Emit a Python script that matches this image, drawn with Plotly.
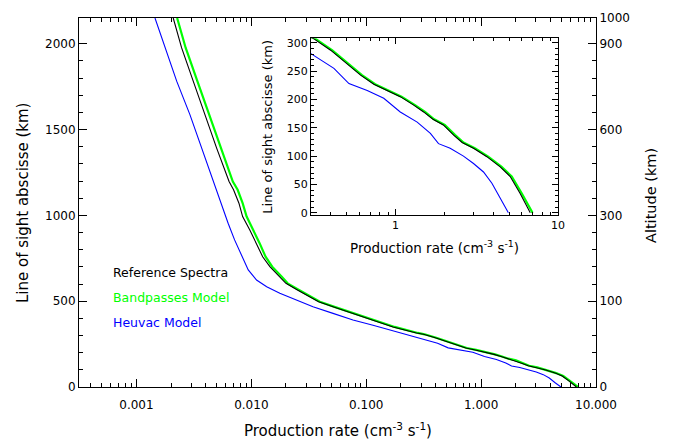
import plotly.graph_objects as go

# ---- data ----
los_ref = [2150, 1977, 1782, 1587, 1393, 1197, 1149, 1071, 993, 915, 838, 759, 701, 643, 604, 565, 526, 497,
           467, 429, 390, 350, 315,
           307, 287, 263, 243, 227, 216, 205, 190, 178, 165, 155, 137, 124, 114, 99, 81, 64, 34, 11, 0]
rate_ref = [0.00209, 0.00247, 0.00312, 0.00394, 0.00498, 0.0064, 0.0070, 0.0078, 0.0084, 0.0097, 0.0110,
            0.01255, 0.0145, 0.0177, 0.0200, 0.0252, 0.0325, 0.0385,
            0.0514, 0.0767, 0.1146, 0.171, 0.274,
            0.315, 0.399, 0.505, 0.61, 0.736, 0.889, 1.07, 1.295, 1.49, 1.70, 1.97, 2.28, 2.57, 3.02, 3.65, 4.41,
            5.08, 5.85, 6.43, 6.75]

los_bp = los_ref
rate_bp = [0.00226, 0.00268, 0.00339, 0.0043, 0.00543, 0.0069, 0.0076, 0.0084, 0.0091, 0.0104, 0.0118,
           0.0133, 0.0152, 0.0184, 0.0207, 0.0260, 0.0334, 0.0395,
           0.0530, 0.0794, 0.1186, 0.177, 0.281,
           0.322, 0.407, 0.515, 0.622, 0.75, 0.905, 1.09, 1.32, 1.52, 1.73, 2.01, 2.33, 2.62, 3.08, 3.72, 4.5,
           5.19, 5.99, 6.6, 6.97]

los_hv = [2150, 1977, 1782, 1587, 1393, 1197, 1149, 1089, 1030, 954, 857, 759, 682, 623, 584, 546, 506, 467,
          429, 390, 360, 321,
          280, 255, 228, 216, 202, 178, 160, 140, 122, 114, 100, 87, 72, 52, 25, 0]
rate_hv = [0.00145, 0.00177, 0.00224, 0.00292, 0.00369, 0.00466, 0.0049, 0.00532, 0.00569, 0.00628, 0.00715,
           0.0083, 0.0094, 0.0111, 0.0136, 0.0177, 0.0245, 0.0344,
           0.0514, 0.0767, 0.1146, 0.183,
           0.305, 0.418, 0.517, 0.67, 0.847, 1.07, 1.36, 1.64, 1.84, 2.17, 2.62, 3.02, 3.48, 3.92, 4.41, 4.95]

series_names = ["Reference Spectra", "Bandpasses Model", "Heuvac Model"]

x_tickvals = [0.001, 0.01, 0.1, 1, 10]
x_ticktext = ["0.001", "0.010", "0.100", "1.000", "10.000"]
y_tickvals = [0, 500, 1000, 1500, 2000]
alt_tickvals = [0, 500, 1000, 1500, 2000, 2150]
alt_ticktext = ["0", "100", "300", "600", "900", "1000"]
y_minor = [v for v in range(100, 2000, 100) if v % 500 != 0]
x_minor = [m * 10.0 ** e for e in range(-4, 1) for m in range(2, 10)]

inset_xtickvals = [1, 10]
inset_xticktext = ["1", "10"]
inset_ytickvals = [0, 50, 100, 150, 200, 250, 300]
inset_yminor = [v for v in range(10, 310, 10) if v % 50 != 0]
inset_xminor = [m * 10.0 ** e for e in range(-1, 1) for m in range(2, 10)]

BLACK, GREEN, BLUE = "#000000", "#00ff00", "#0000ff"
FONT = "DejaVu Sans"

fig = go.Figure()
# main
fig.add_trace(go.Scatter(x=rate_bp, y=los_bp, mode="lines", line=dict(color=GREEN, width=2.2), xaxis="x", yaxis="y"))
fig.add_trace(go.Scatter(x=rate_ref, y=los_ref, mode="lines", line=dict(color=BLACK, width=1.1), xaxis="x", yaxis="y"))
fig.add_trace(go.Scatter(x=rate_hv, y=los_hv, mode="lines", line=dict(color=BLUE, width=1.1), xaxis="x", yaxis="y"))
# helper to render right axis
fig.add_trace(go.Scatter(x=rate_ref, y=los_ref, mode="lines", line=dict(color="rgba(0,0,0,0)", width=0),
                         xaxis="x", yaxis="y2", hoverinfo="skip"))
# inset
fig.add_trace(go.Scatter(x=rate_bp, y=los_bp, mode="lines", line=dict(color=GREEN, width=2.2), xaxis="x2", yaxis="y3"))
fig.add_trace(go.Scatter(x=rate_ref, y=los_ref, mode="lines", line=dict(color=BLACK, width=1.1), xaxis="x2", yaxis="y3"))
fig.add_trace(go.Scatter(x=rate_hv, y=los_hv, mode="lines", line=dict(color=BLUE, width=1.1), xaxis="x2", yaxis="y3"))

axis_common = dict(showline=True, linecolor="black", linewidth=1, showgrid=False, zeroline=False,
                   ticks="inside", tickcolor="black", tickwidth=1, automargin=False)

# page body has an 8px default margin -> figure is 667x431 so that it fits a 675x439 window
fig.update_layout(
    width=667, height=431,
    margin=dict(l=71, r=79, t=10, b=52),
    paper_bgcolor="white", plot_bgcolor="white",
    showlegend=False,
    font=dict(family=FONT, size=12, color="black"),
    xaxis=dict(type="log", range=[-3.5, 1], domain=[0, 1], mirror="ticks", ticklen=8,
               tickmode="array", tickvals=x_tickvals, ticktext=x_ticktext, ticklabelstandoff=7,
               minor=dict(tickmode="array", tickvals=x_minor, ticks="inside", ticklen=4, tickcolor="black"),
               tickfont=dict(size=12), **axis_common),
    yaxis=dict(range=[0, 2150], domain=[0, 1], ticklen=8, tickmode="array", tickvals=y_tickvals,
               minor=dict(tickmode="array", tickvals=y_minor, ticks="inside", ticklen=4, tickcolor="black"),
               tickfont=dict(size=12), **axis_common),
    yaxis2=dict(range=[0, 2150], overlaying="y", side="right", anchor="x", ticklen=8,
                tickmode="array", tickvals=alt_tickvals, ticktext=alt_ticktext,
                minor=dict(tickmode="array", tickvals=y_minor, ticks="inside", ticklen=4, tickcolor="black"),
                tickfont=dict(size=12), **axis_common),
    xaxis2=dict(type="log", range=[-0.52, 1], domain=[0.4487, 0.9265], anchor="y3", mirror="ticks", ticklen=6,
                tickmode="array", tickvals=inset_xtickvals, ticktext=inset_xticktext,
                minor=dict(tickmode="array", tickvals=inset_xminor, ticks="inside", ticklen=3, tickcolor="black"),
                tickfont=dict(size=11), **axis_common),
    yaxis3=dict(range=[-4, 308], domain=[0.4661, 0.945], anchor="x2", mirror="ticks", ticklen=6,
                tickmode="array", tickvals=inset_ytickvals,
                minor=dict(tickmode="array", tickvals=inset_yminor, ticks="inside", ticklen=3, tickcolor="black"),
                tickfont=dict(size=11), **axis_common),
)

ann = []
ann.append(dict(text="Production rate (cm<sup>-3</sup> s<sup>-1</sup>)", x=0.5, y=-0.1165, xref="paper", yref="paper",
                showarrow=False, font=dict(size=15), xanchor="center", yanchor="middle"))
ann.append(dict(text="Line of sight abscisse (km)", x=-0.1083, y=0.4986, xref="paper", yref="paper",
                showarrow=False, font=dict(size=15), textangle=-90, xanchor="center", yanchor="middle"))
ann.append(dict(text="Altitude (km)", x=1.1064, y=0.5176, xref="paper", yref="paper",
                showarrow=False, font=dict(size=14.5), textangle=-90, xanchor="center", yanchor="middle"))
ann.append(dict(text="Production rate (cm<sup>-3</sup> s<sup>-1</sup>)", x=0.6876, y=0.3794, xref="paper", yref="paper",
                showarrow=False, font=dict(size=13.5), xanchor="center", yanchor="middle"))
ann.append(dict(text="Line of sight abscisse (km)", x=0.3631, y=0.7046, xref="paper", yref="paper",
                showarrow=False, font=dict(size=13), textangle=-90, xanchor="center", yanchor="middle"))
for name, col, yy in zip(series_names, [BLACK, GREEN, BLUE], [0.3098, 0.242, 0.1743]):
    ann.append(dict(text=name, x=0.0624, y=yy, xref="paper", yref="paper", showarrow=False,
                    font=dict(size=12.5, color=col), xanchor="left", yanchor="middle"))
fig.update_layout(annotations=ann)

fig.write_html("out.html")
